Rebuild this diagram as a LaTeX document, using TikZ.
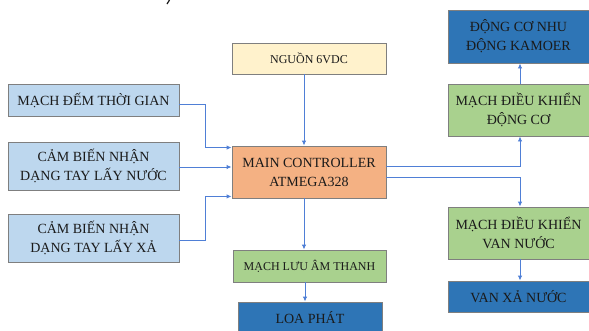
\documentclass[tikz,border=0pt]{standalone}
\usepackage{fontspec}
\setmainfont{Liberation Serif}
\usetikzlibrary{arrows.meta}
\definecolor{lblue}{HTML}{BDD7EE}
\definecolor{lyellow}{HTML}{FFF2CC}
\definecolor{lorange}{HTML}{F4B183}
\definecolor{lgreen}{HTML}{A9D18E}
\definecolor{dblue}{HTML}{2E75B6}
\definecolor{bordergray}{HTML}{7F7F7F}
\definecolor{connblue}{HTML}{4F7FD6}
\definecolor{txt}{HTML}{1A1A1A}
\tikzset{
  box/.style={draw=bordergray, line width=0.9pt, inner sep=0pt, align=center,
    text=txt, font=\fontsize{14}{19}\selectfont},
  smallbox/.style={box, font=\fontsize{12}{15}\selectfont},
  conn/.style={draw=connblue, line width=0.9pt, -{Latex[length=5pt,width=4.5pt]}}
}
\begin{document}
\begin{tikzpicture}[x=1pt, y=-1pt]
\useasboundingbox (0,0) rectangle (589,330);
% left inputs
\node[box, fill=lblue, minimum width=171pt, minimum height=32pt] (mdem) at (93.5,100) {MẠCH ĐẾM THỜI GIAN};
\node[box, fill=lblue, minimum width=171pt, minimum height=48pt] (cbn) at (93.5,166) {CẢM BIẾN NHẬN\\DẠNG TAY LẤY NƯỚC};
\node[box, fill=lblue, minimum width=171pt, minimum height=48pt] (cbx) at (93.5,238) {CẢM BIẾN NHẬN\\DẠNG TAY LẤY XẢ};
% centre column
\node[smallbox, fill=lyellow, minimum width=154pt, minimum height=31pt] (nguon) at (309,58.5) {NGUỒN 6VDC};
\node[box, fill=lorange, minimum width=154pt, minimum height=52pt] (main) at (309,172) {MAIN CONTROLLER\\ATMEGA328};
\node[smallbox, fill=lgreen, minimum width=153pt, minimum height=32pt] (mluu) at (309.5,266) {MẠCH LƯU ÂM THANH};
\node[box, fill=dblue, minimum width=144pt, minimum height=32pt] (loa) at (310,318) {LOA PHÁT};
% right column
\node[box, fill=dblue, minimum width=141pt, minimum height=53pt] (dco) at (518.5,36.5) {ĐỘNG CƠ NHU\\ĐỘNG KAMOER};
\node[box, fill=lgreen, minimum width=141pt, minimum height=52pt] (mdk) at (518.5,110) {MẠCH ĐIỀU KHIỂN\\ĐỘNG CƠ};
\node[box, fill=lgreen, minimum width=141pt, minimum height=52pt] (mvan) at (518.5,233) {MẠCH ĐIỀU KHIỂN\\VAN NƯỚC};
\node[box, fill=dblue, minimum width=141pt, minimum height=31pt] (van) at (518.5,296.5) {VAN XẢ NƯỚC};
% connectors
\draw[conn] ([yshift=-4pt]mdem.east) -- ++(26,0) |- ([yshift=-2pt]main.north west);
\draw[conn] ([yshift=-1pt]cbn.east) -- ([yshift=-1pt]main.west |- cbn.east);
\draw[conn] ([yshift=-2pt]cbx.east) -- ++(26,0) |- ([yshift=2pt]main.south west);
\draw[conn] ([xshift=-5pt]nguon.south) -- ([xshift=-5pt]main.north);
\draw[conn] ([xshift=-5pt]main.south) -- ([xshift=-5.5pt]mluu.north);
\draw[conn] ([xshift=-4.5pt]mluu.south) -- ([xshift=-5pt]loa.north);
\draw[conn] ([yshift=6pt]main.east) -| ([xshift=1.5pt]mdk.south);
\draw[conn] ([yshift=-5pt]main.east) -| ([xshift=1.5pt]mvan.north);
\draw[conn] ([xshift=1.5pt]mdk.north) -- ([xshift=1.5pt]dco.south);
\draw[conn] ([xshift=1.5pt]mvan.south) -- ([xshift=1.5pt]van.north);
% stray mark at top
\draw[line width=1.2pt, txt] (169.5,0) -- (167,4);
\end{tikzpicture}
\end{document}
